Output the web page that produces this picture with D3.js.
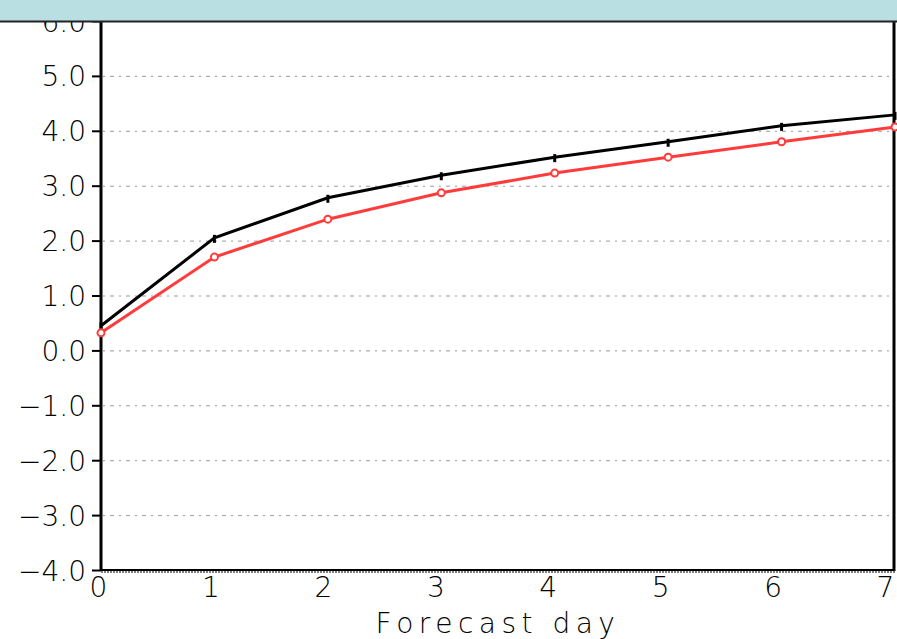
<!DOCTYPE html>
<html>
<head>
<meta charset="utf-8">
<script src="https://cdn.jsdelivr.net/npm/d3@7"></script>
<style>
  html, body { margin: 0; padding: 0; background: #fff; }
  svg { display: block; }
  .lbl { font-family: "DejaVu Sans", sans-serif; font-weight: 200; fill: #000; }
</style>
</head>
<body>
<svg id="chart" width="897" height="639"></svg>
<script>
// Forecast days and the two error curves
const days = [0, 1, 2, 3, 4, 5, 6, 7];
const blackSeries = [0.45, 2.05, 2.78, 3.19, 3.52, 3.80, 4.09, 4.29];
const redSeries   = [0.32, 1.70, 2.39, 2.87, 3.23, 3.52, 3.80, 4.07];
const yTicks = [-4, -3, -2, -1, 0, 1, 2, 3, 4, 5, 6];
const xTickLabels = ["0", "1", "2", "3", "4", "5", "6", "7"];

const W = 897, H = 639;
const plotL = 101, plotR = 895, plotT = 21, plotB = 570;

const svg = d3.select("#chart");

const x = d3.scaleLinear().domain([0, 7]).range([plotL, plotR]);
// day labels sit on a slightly tighter spacing than the data
const xLab = d3.scaleLinear().domain([0, 7]).range([98, 885]);
const y = d3.scaleLinear().domain([-4, 6]).range([plotB, plotT]);

// dotted horizontal grid
svg.append("g").selectAll("line")
  .data(yTicks.filter(d => d > -4 && d < 6))
  .join("line")
  .attr("x1", plotL + 2).attr("x2", plotR)
  .attr("y1", d => y(d) + 0.5).attr("y2", d => y(d) + 0.5)
  .attr("stroke", "#9a9a9a").attr("stroke-width", 1)
  .attr("stroke-dasharray", "2,5,4,5");

// y axis
const yAxis = d3.axisLeft(y).tickValues(yTicks).tickSize(9).tickPadding(6)
  .tickFormat(d => (d < 0 ? "\u2212" + Math.abs(d).toFixed(1) : d.toFixed(1)));
const gy = svg.append("g").attr("transform", `translate(${plotL},0)`).call(yAxis);
gy.select(".domain").remove();
gy.selectAll(".tick line").attr("stroke", "#000").attr("stroke-width", 2);
gy.selectAll(".tick text").attr("class", "lbl").attr("font-size", 28).attr("dy", "0.36em")
  .attr("font-family", null);

// x axis labels
const xAxis = d3.axisBottom(xLab).tickValues(days).tickSize(0).tickPadding(7)
  .tickFormat((d, i) => xTickLabels[i]);
const gx = svg.append("g").attr("transform", `translate(0,${plotB})`).call(xAxis);
gx.select(".domain").remove();
gx.selectAll(".tick text").attr("class", "lbl").attr("font-size", 28)
  .attr("font-family", null);

// frame: thick left, bottom and right edges
svg.append("line").attr("x1", plotL).attr("x2", plotL).attr("y1", plotT).attr("y2", plotB + 1)
  .attr("stroke", "#000").attr("stroke-width", 3);
svg.append("line").attr("x1", plotR - 1).attr("x2", plotR - 1).attr("y1", plotT).attr("y2", plotB + 1)
  .attr("stroke", "#000").attr("stroke-width", 3);
svg.append("line").attr("x1", plotL).attr("x2", plotR).attr("y1", plotB).attr("y2", plotB)
  .attr("stroke", "#000").attr("stroke-width", 2);
svg.append("line").attr("x1", plotL).attr("x2", plotR).attr("y1", plotB + 2).attr("y2", plotB + 2)
  .attr("stroke", "#000").attr("stroke-width", 1.2).attr("stroke-dasharray", "2,1");

// series lines
const line = d3.line().x((d, i) => x(days[i])).y(d => y(d));
svg.append("path").datum(blackSeries).attr("d", line)
  .attr("fill", "none").attr("stroke", "#000").attr("stroke-width", 3);
svg.append("path").datum(redSeries).attr("d", line)
  .attr("fill", "none").attr("stroke", "#ff3b3b").attr("stroke-width", 3);

// markers: short vertical ticks on black, open circles on red
svg.append("g").selectAll("line")
  .data(blackSeries)
  .join("line")
  .attr("x1", (d, i) => x(days[i])).attr("x2", (d, i) => x(days[i]))
  .attr("y1", d => y(d) - 3).attr("y2", d => y(d) + 5)
  .attr("stroke", "#000").attr("stroke-width", 3);
svg.append("g").selectAll("circle")
  .data(redSeries)
  .join("circle")
  .attr("cx", (d, i) => x(days[i])).attr("cy", d => y(d)).attr("r", 3.5)
  .attr("fill", "#fff").attr("stroke", "#ff3b3b").attr("stroke-width", 2);

// x axis title
svg.append("text").attr("class", "lbl").attr("font-size", 28)
  .attr("x", 498).attr("y", 633).attr("text-anchor", "middle")
  .attr("letter-spacing", 5.5)
  .text("Forecast day");

// header band
svg.append("rect").attr("x", 0).attr("y", 0).attr("width", W).attr("height", 21)
  .attr("fill", "#b9dfe2");
svg.append("line").attr("x1", 0).attr("x2", W).attr("y1", 21.5).attr("y2", 21.5)
  .attr("stroke", "#222").attr("stroke-width", 2);
</script>
</body>
</html>
